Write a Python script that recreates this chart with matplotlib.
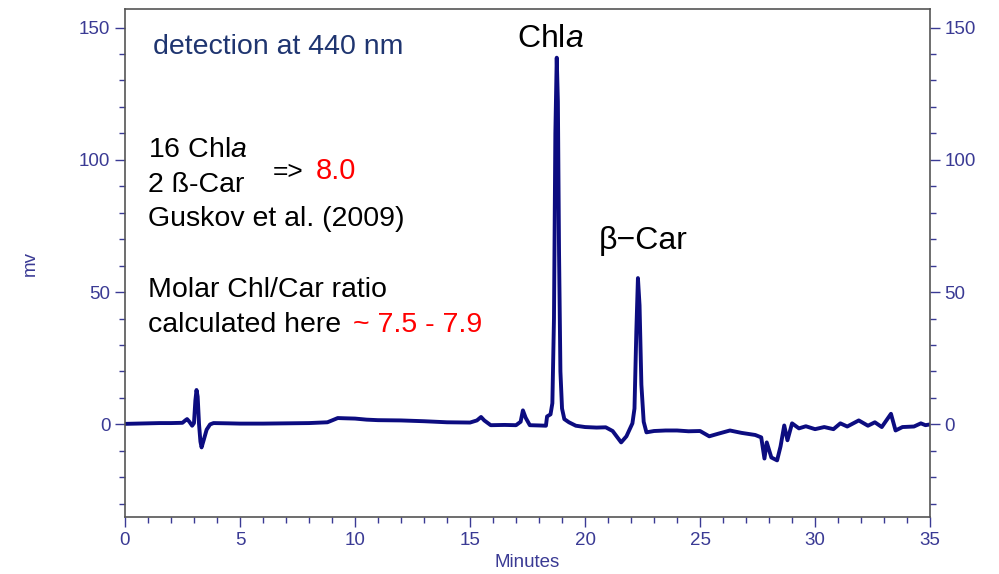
import numpy as np
import matplotlib.pyplot as plt
from matplotlib.ticker import MultipleLocator

plt.rcParams['font.family'] = ['Liberation Sans', 'DejaVu Sans']
plt.rcParams['mathtext.fontset'] = 'custom'
plt.rcParams['mathtext.rm'] = 'Liberation Sans'
plt.rcParams['mathtext.it'] = 'Liberation Sans:italic'

# chromatogram trace (minutes, mV)
minutes = [0.0, 0.5, 1.0, 1.5, 2.0, 2.5, 2.62, 2.7, 2.8, 2.92, 3.0, 3.06, 3.11, 3.16,
           3.22, 3.28, 3.33, 3.42, 3.55, 3.7, 3.85, 4.5, 5.0, 6.0, 7.0, 8.0, 8.8,
           9.0, 9.25, 9.6, 10.0, 10.5, 11.0, 12.0, 13.0, 14.0, 15.0, 15.3, 15.48,
           15.62, 15.9, 16.5, 17.0, 17.2, 17.3, 17.42, 17.6, 18.0, 18.3, 18.35,
           18.5, 18.58, 18.65, 18.71, 18.77, 18.82, 18.87, 18.93, 19.0, 19.1,
           19.3, 19.6, 20.0, 20.5, 20.9, 21.2, 21.57, 21.8, 22.06, 22.15, 22.23,
           22.3, 22.37, 22.45, 22.55, 22.67, 23.0, 23.5, 24.0, 24.5, 25.0, 25.4,
           25.8, 26.3, 26.8, 27.4, 27.66, 27.8, 27.9, 28.1, 28.35, 28.5, 28.66,
           28.8, 29.0, 29.3, 29.6, 30.0, 30.4, 30.8, 31.1, 31.4, 31.9, 32.3,
           32.6, 32.9, 33.3, 33.5, 33.8, 34.3, 34.6, 34.8, 35.0]
signal = [0.2, 0.3, 0.4, 0.5, 0.5, 0.6, 1.5, 2.0, 1.0, -0.5, 0.5, 9.0, 13.0, 10.5,
          0.0, -6.5, -8.7, -6.0, -2.0, 0.0, 0.5, 0.4, 0.3, 0.3, 0.4, 0.5, 0.8,
          1.5, 2.4, 2.3, 2.2, 1.8, 1.6, 1.5, 1.2, 0.8, 0.7, 1.5, 2.8,
          1.5, -0.3, -0.2, -0.3, 1.0, 5.3, 2.5, -0.3, -0.4, -0.5, 3.0,
          3.8, 8.0, 40.0, 110.0, 138.6, 122.0, 65.0, 20.0, 6.0, 2.0,
          0.8, -0.5, -1.0, -1.2, -1.1, -2.5, -6.8, -4.5, 0.4, 6.0, 35.0,
          55.3, 45.0, 15.0, 1.0, -3.0, -2.5, -2.3, -2.3, -2.6, -2.5, -4.5,
          -3.5, -2.3, -3.2, -4.0, -4.9, -12.9, -6.8, -12.5, -13.6, -8.3, -0.4,
          -6.0, 0.4, -1.5, -0.7, -1.8, -1.0, -1.8, 0.4, -0.8, 1.5, -0.5,
          0.8, -1.0, 4.0, -2.3, -1.0, -0.8, 0.4, -0.3, 0.0]

tick_blue = '#3a3a94'

fig = plt.figure(figsize=(9.99, 5.74), dpi=100)
ax = fig.add_axes([0.1251, 0.0993, 0.8059, 0.885])
ax.plot(minutes, signal, color='#0c0c80', lw=2.8, solid_joinstyle='round')

ax.set_xlim(0, 35)
ax.set_ylim(-35, 157)
ax.xaxis.set_major_locator(MultipleLocator(5))
ax.xaxis.set_minor_locator(MultipleLocator(1))
ax.yaxis.set_major_locator(MultipleLocator(50))
ax.yaxis.set_minor_locator(MultipleLocator(10))
ax.tick_params(which='both', direction='out', color=tick_blue, labelcolor=tick_blue,
               labelsize=13.5, left=True, right=True, labelright=True, top=False)
ax.tick_params(which='major', length=7.5, width=1, pad=3)
ax.tick_params(which='minor', length=4, width=1)
for s in ax.spines.values():
    s.set_color('#555555')
    s.set_linewidth(1.2)

ax.set_xlabel('Minutes', color=tick_blue, fontsize=13.5, labelpad=4)
ax.set_ylabel('mv', color=tick_blue, fontsize=13.5, labelpad=29)

# annotations
ax.text(1.22, 140, 'detection at 440 nm', color='#1f3570', fontsize=20.5, va='baseline')
ax.text(1.0, 101, '16 Chl$\\mathit{a}$', fontsize=20.5, va='baseline')
ax.text(1.0, 87.9, '2 ß-Car', fontsize=20.5, va='baseline')
ax.text(6.43, 92.8, '=>', fontsize=19, va='baseline')
ax.text(8.3, 92.8, '8.0', color='red', fontsize=21, va='baseline')
ax.text(1.0, 75, 'Guskov et al. (2009)', fontsize=20.5, va='baseline')
ax.text(1.0, 48.1, 'Molar Chl/Car ratio', fontsize=20.5, va='baseline')
ax.text(1.0, 34.8, 'calculated here', fontsize=20.5, va='baseline')
ax.text(9.9, 34.8, '~ 7.5 - 7.9', color='red', fontsize=20.5, va='baseline')
ax.text(18.5, 142.8, 'Chl$\\mathit{a}$', fontsize=23, ha='center', va='baseline')
ax.text(20.6, 66.3, 'β−Car', fontsize=23, va='baseline')

fig.savefig('out.png', dpi=100)
